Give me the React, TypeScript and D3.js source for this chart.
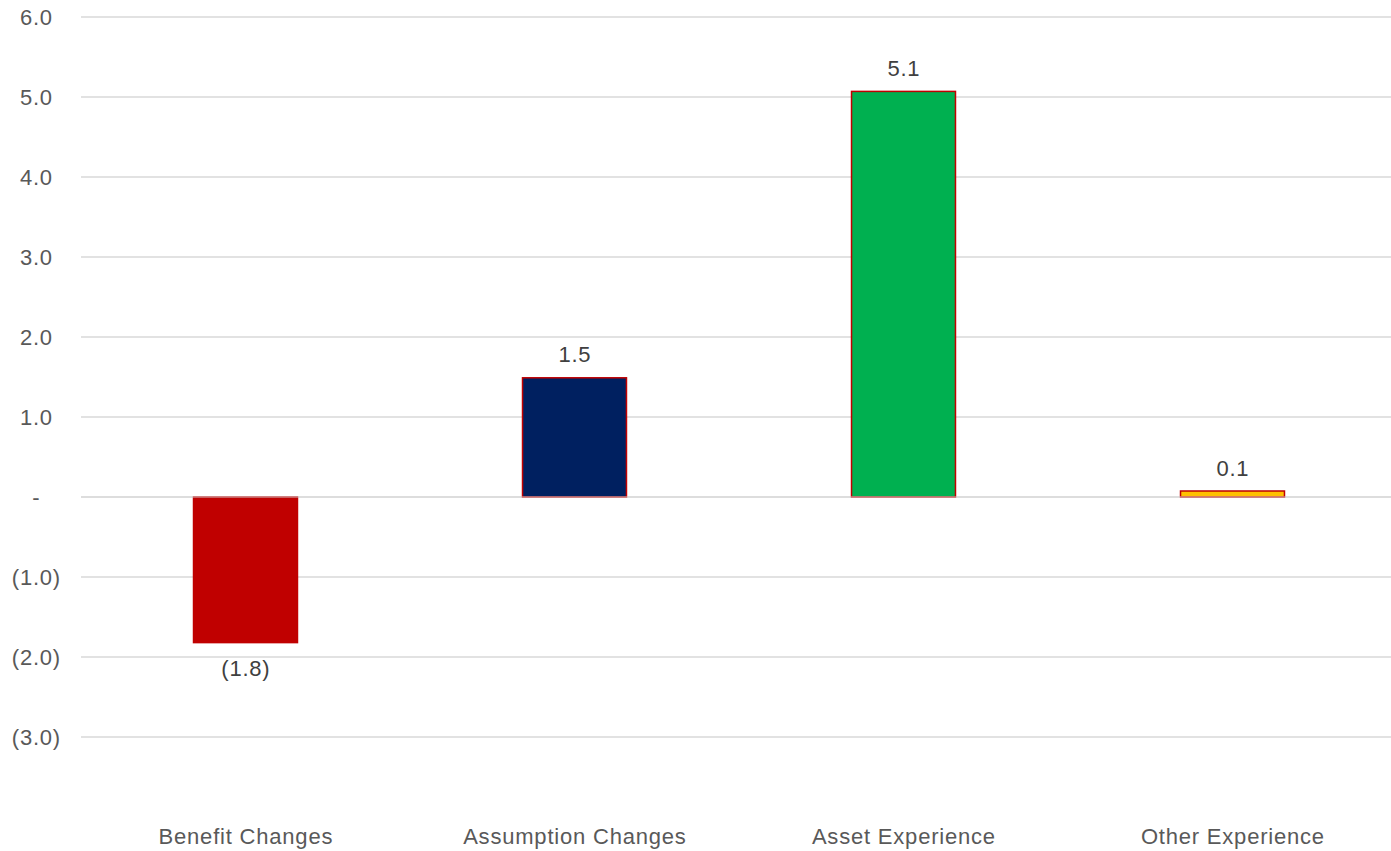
import React from "react";
import * as d3 from "d3";

const categories: string[] = ["Benefit Changes", "Assumption Changes", "Asset Experience", "Other Experience"];
const values: number[] = [-1.82, 1.49, 5.07, 0.075];
const barColors: string[] = ["#C00000", "#002060", "#00B050", "#FFC000"];
const yTicks: number[] = [-3, -2, -1, 0, 1, 2, 3, 4, 5, 6];

const W = 1391;
const H = 851;
const FONT = "'Liberation Sans', Arial, sans-serif";
const FS = 22;
const LS = 0.8;

const fmt = (v: number): string => {
  const r = Math.round(v * 10) / 10;
  if (Math.abs(r) < 1e-9) return "-";
  const s = Math.abs(r).toFixed(1);
  return r < 0 ? `(${s})` : s;
};

function SText(props: { x: number; y: number; text: string; fill: string }) {
  return (
    <text
      x={props.x + LS / 2}
      y={props.y}
      textAnchor="middle"
      fontFamily={FONT}
      fontSize={FS}
      letterSpacing={LS}
      fill={props.fill}
    >
      {props.text}
    </text>
  );
}

export default function App() {
  const x = d3.scaleBand<string>().domain(categories).range([81, 1397]).padding(0);
  const y = d3.scaleLinear().domain([-3, 6]).range([737, 17]);
  const barW = x.bandwidth() * 0.316;

  return (
    <svg width={W} height={H} style={{ position: "absolute", left: 0, top: 0, background: "#fff" }}>
      {yTicks.map((t) => (
        <g key={t}>
          <line x1={81} x2={1397} y1={y(t)} y2={y(t)} stroke="#d9d9d9" strokeWidth={1.5} />
          <SText x={36} y={y(t) + 7.8} text={fmt(t)} fill="#595959" />
        </g>
      ))}
      {categories.map((c, i) => {
        const v = values[i];
        const cx = (x(c) as number) + x.bandwidth() / 2;
        const y0 = y(Math.max(0, v));
        const y1 = y(Math.min(0, v));
        return (
          <g key={c}>
            <rect
              x={cx - barW / 2}
              y={y0}
              width={barW}
              height={y1 - y0}
              fill={barColors[i]}
              stroke="#C00000"
              strokeWidth={1.5}
            />
            <SText
              x={cx}
              y={v >= 0 ? y0 - 15.5 : y1 + 33}
              text={fmt(v)}
              fill="#404040"
            />
            <SText x={cx} y={844} text={c} fill="#595959" />
          </g>
        );
      })}
      <line x1={81} x2={1397} y1={y(0)} y2={y(0)} stroke="#d9d9d9" strokeWidth={1.5} opacity={0.6} />
    </svg>
  );
}
